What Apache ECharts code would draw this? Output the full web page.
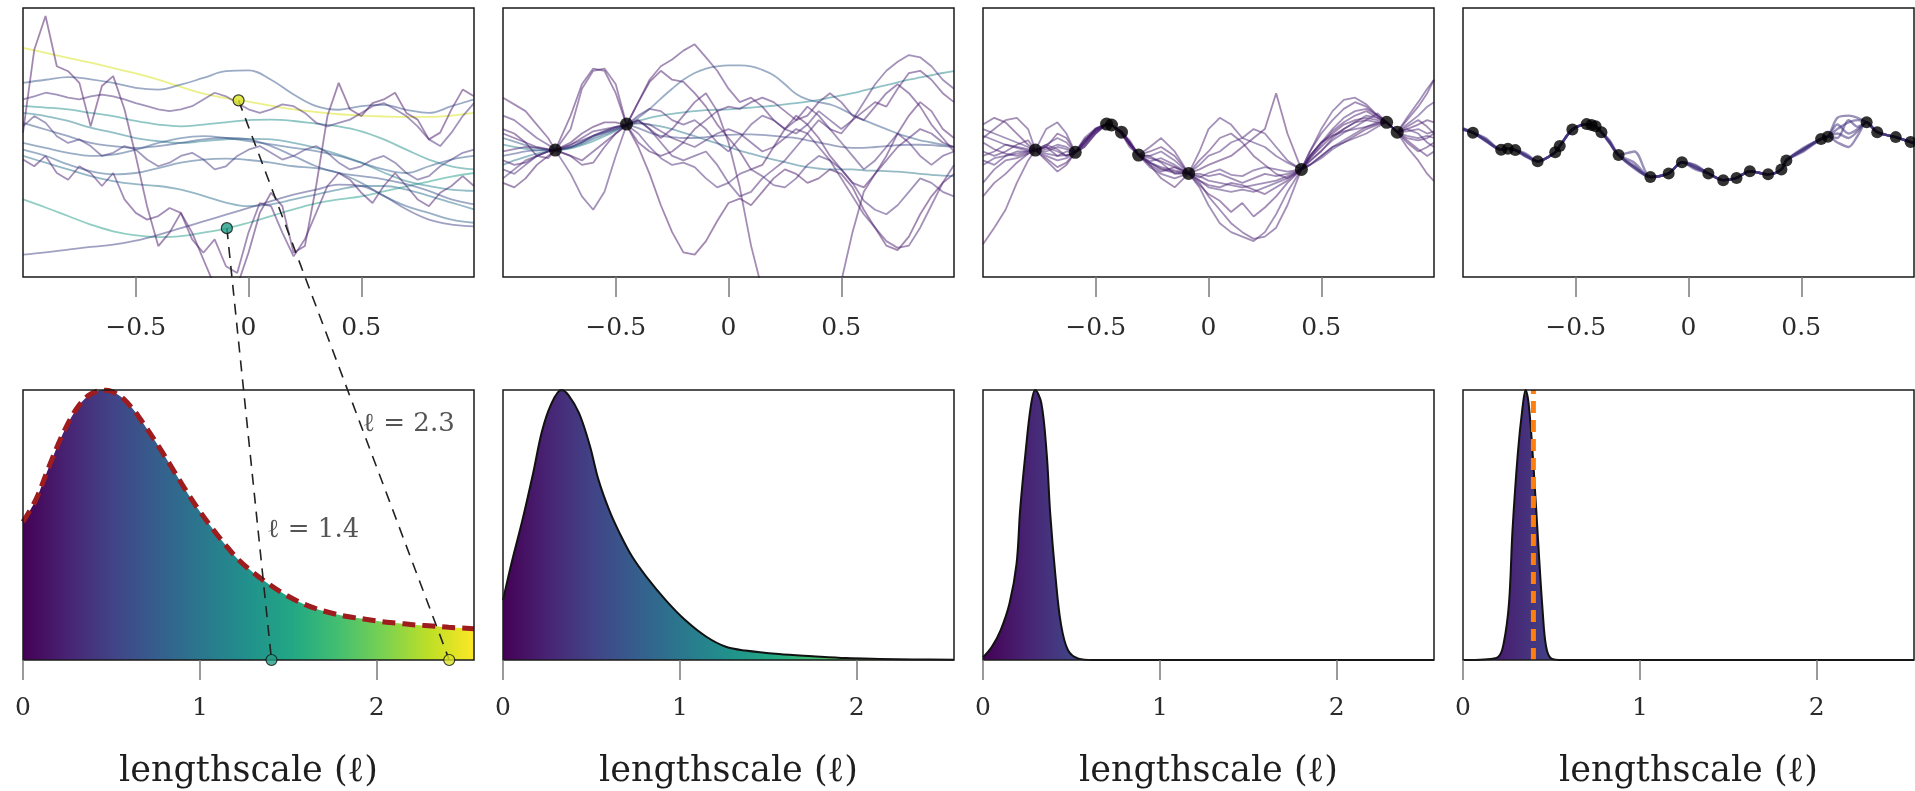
<!DOCTYPE html>
<html><head><meta charset="utf-8">
<script src="https://cdn.jsdelivr.net/npm/echarts@6/dist/echarts.min.js"></script>
<style>html,body{margin:0;padding:0;background:#fff;}#c{width:1915px;height:791px;}</style>
</head><body><div id="c"></div>
<script>
// ---------------- DATA ----------------
// observations (shared across panels; panels 2/3 use subsets)
const obsX = [-0.956,-0.831,-0.801,-0.768,-0.669,-0.591,-0.571,-0.515,-0.452,-0.430,-0.412,-0.386,-0.310,-0.169,-0.088,-0.029,0.088,0.154,0.213,0.272,0.353,0.412,0.434,0.588,0.618,0.790,0.837,0.919,0.985];
const obsY = [0.22,-0.16,-0.14,-0.17,-0.42,-0.22,-0.08,0.29,0.41,0.39,0.36,0.23,-0.28,-0.77,-0.69,-0.44,-0.69,-0.84,-0.79,-0.64,-0.71,-0.60,-0.40,0.08,0.13,0.45,0.23,0.12,0.01];
const obsIdxPanel2 = [3, 8];
const obsIdxPanel3 = [3, 5, 8, 9, 11, 12, 14, 21, 25, 26];

// x grids of the sample paths
const xCoarse = [-1,-0.9,-0.8,-0.7,-0.6,-0.5,-0.4,-0.3,-0.2,-0.1,0,0.1,0.2,0.3,0.4,0.5,0.6,0.7,0.8,0.9,1];
const xFine = [-1,-0.95,-0.9,-0.85,-0.8,-0.75,-0.7,-0.65,-0.6,-0.55,-0.5,-0.45,-0.4,-0.35,-0.3,-0.25,-0.2,-0.15,-0.1,-0.05,0,0.05,0.1,0.15,0.2,0.25,0.3,0.35,0.4,0.45,0.5,0.55,0.6,0.65,0.7,0.75,0.8,0.85,0.9,0.95,1];
const xPanel2 = [-1,-0.95,-0.9,-0.85,-0.8,-0.768,-0.7,-0.65,-0.6,-0.55,-0.5,-0.452,-0.4,-0.35,-0.3,-0.25,-0.2,-0.15,-0.1,-0.05,0,0.05,0.1,0.15,0.2,0.25,0.3,0.35,0.4,0.45,0.5,0.55,0.6,0.65,0.7,0.75,0.8,0.85,0.9,0.95,1];
const xPanel3 = [-1,-0.95,-0.9,-0.85,-0.8,-0.768,-0.72,-0.67,-0.63,-0.591,-0.55,-0.5,-0.452,-0.43,-0.386,-0.35,-0.31,-0.26,-0.21,-0.15,-0.088,-0.04,0,0.05,0.1,0.15,0.2,0.25,0.3,0.35,0.412,0.45,0.5,0.55,0.6,0.65,0.7,0.75,0.79,0.837,0.88,0.93,0.97,1];
const xPanel4 = [-1,-0.956,-0.9,-0.831,-0.801,-0.768,-0.72,-0.669,-0.591,-0.571,-0.515,-0.452,-0.430,-0.412,-0.386,-0.35,-0.310,-0.24,-0.169,-0.088,-0.029,0.03,0.088,0.154,0.213,0.272,0.353,0.412,0.434,0.51,0.588,0.618,0.66,0.71,0.75,0.790,0.837,0.919,0.985,1.0];

// panel 1 (prior samples): smooth paths on xCoarse, rough paths on xFine
const panel1SmoothLs = [2.41, 1.405, 1.25, 1.1, 0.95, 0.7, 0.75, 0.8, 0.65, 0.5];
const panel1SmoothY = [
  [2.11,2.0,1.89,1.78,1.66,1.54,1.40,1.24,1.09,0.99,0.91,0.82,0.74,0.68,0.63,0.60,0.58,0.57,0.57,0.60,0.66],
  [-1.27,-1.45,-1.64,-1.83,-1.98,-2.07,-2.11,-2.09,-2.01,-1.92,-1.79,-1.64,-1.49,-1.36,-1.27,-1.20,-1.09,-0.98,-0.87,-0.76,-0.68],
  [0.81,0.78,0.74,0.66,0.59,0.48,0.40,0.36,0.40,0.45,0.50,0.51,0.48,0.42,0.36,0.25,0.07,-0.16,-0.38,-0.53,-0.60],
  [0.66,0.59,0.48,0.33,0.22,0.10,0.03,-0.01,0.03,0.07,0.08,0.07,-0.01,-0.12,-0.27,-0.45,-0.67,-0.86,-0.97,-1.05,-1.08],
  [-0.30,-0.45,-0.60,-0.75,-0.86,-0.93,-0.97,-1.05,-1.19,-1.34,-1.42,-1.38,-1.27,-1.16,-1.05,-0.97,-0.97,-1.05,-1.19,-1.34,-1.49],
  [1.33,1.40,1.46,1.41,1.33,1.22,1.18,1.29,1.44,1.59,1.61,1.40,1.07,0.81,0.73,0.81,0.84,0.73,0.66,0.81,0.96],
  [-0.01,-0.12,-0.23,-0.30,-0.27,-0.16,-0.01,0.10,0.14,0.10,0.03,-0.04,-0.12,-0.19,-0.30,-0.45,-0.60,-0.68,-0.53,-0.38,-0.30],
  [-0.16,-0.30,-0.49,-0.64,-0.71,-0.68,-0.57,-0.45,-0.38,-0.36,-0.39,-0.45,-0.53,-0.57,-0.68,-0.90,-1.19,-1.42,-1.57,-1.72,-1.79],
  [0.44,0.29,0.14,-0.01,-0.08,-0.12,-0.08,-0.01,0.07,0.10,0.07,-0.08,-0.30,-0.53,-0.68,-0.75,-0.82,-0.93,-1.08,-1.27,-1.38],
  [-2.50,-2.45,-2.39,-2.33,-2.28,-2.19,-2.06,-1.91,-1.76,-1.61,-1.46,-1.31,-1.16,-1.05,-0.94,-0.97,-1.19,-1.49,-1.72,-1.83,-1.87]
];
const panel1RoughLs = [0.12, 0.2, 0.3, 0.38];
const panel1RoughY = [
  [0.22,2.07,2.82,1.70,1.59,1.33,0.36,1.26,1.48,0.74,-0.30,-1.42,-2.31,-2.01,-1.57,-2.01,-2.61,-3.20,-3.50,-3.20,-2.46,-1.57,-1.12,-1.42,-2.46,-2.31,-0.97,0.59,1.33,0.74,0.59,0.88,0.96,1.11,0.66,0.51,0.07,0.22,0.74,1.18,1.03],
  [-0.38,-0.53,-0.30,-0.68,-0.83,-0.53,-0.68,-0.97,-0.68,-1.27,-1.57,-1.72,-1.64,-1.46,-1.57,-2.16,-2.46,-2.16,-2.76,-2.91,-2.01,-1.35,-1.42,-2.01,-2.54,-2.16,-1.57,-0.97,-0.68,-0.83,-1.12,-1.35,-0.97,-0.68,-0.97,-1.27,-1.42,-1.12,-0.97,-0.75,-0.97],
  [0.96,1.03,1.11,1.07,1.00,0.96,1.03,1.07,1.03,0.96,0.88,0.81,0.74,0.70,0.74,0.81,0.96,1.11,1.03,0.88,0.74,0.66,0.74,0.85,0.81,0.66,0.44,0.36,0.44,0.51,0.66,0.81,0.88,0.74,0.59,0.36,0.07,-0.08,0.22,0.59,0.88],
  [0.36,0.59,0.44,0.14,-0.01,0.07,-0.08,-0.30,-0.23,-0.08,-0.16,-0.38,-0.53,-0.45,-0.30,-0.23,-0.38,-0.60,-0.53,-0.30,-0.16,-0.08,-0.23,-0.38,-0.30,-0.16,-0.08,-0.23,-0.45,-0.60,-0.53,-0.38,-0.30,-0.45,-0.68,-0.83,-0.75,-0.53,-0.38,-0.23,-0.16]
];

// panel 2 (posterior samples, 2 observations)
const panel2Ls = [1.15, 0.75, 1.0, 0.6, 0.15, 0.2, 0.12, 0.18, 0.25, 0.2, 0.3, 0.22, 0.28];
const panel2Smooth = [true, true, true, true, false, false, false, false, false, false, false, false, false];
const panel2Y = [
  [-0.05,-0.10,-0.14,-0.17,-0.18,-0.17,-0.13,-0.06,0.03,0.14,0.26,0.39,0.48,0.55,0.60,0.64,0.67,0.70,0.72,0.73,0.74,0.76,0.78,0.80,0.82,0.85,0.88,0.91,0.95,1.00,1.05,1.10,1.16,1.22,1.28,1.34,1.40,1.45,1.50,1.55,1.59],
  [0.10,0.02,-0.06,-0.12,-0.16,-0.17,-0.12,-0.03,0.08,0.18,0.28,0.39,0.55,0.75,0.98,1.20,1.40,1.55,1.65,1.70,1.72,1.72,1.70,1.62,1.50,1.30,1.08,0.96,0.90,0.85,0.75,0.62,0.50,0.40,0.30,0.20,0.12,0.05,0.00,-0.05,-0.10],
  [-0.50,-0.40,-0.32,-0.25,-0.20,-0.17,-0.10,0.00,0.12,0.22,0.32,0.39,0.42,0.40,0.36,0.30,0.22,0.14,0.06,-0.02,-0.10,-0.18,-0.25,-0.32,-0.38,-0.44,-0.50,-0.55,-0.58,-0.60,-0.60,-0.60,-0.62,-0.63,-0.64,-0.65,-0.67,-0.70,-0.72,-0.74,-0.75],
  [-0.30,-0.25,-0.20,-0.18,-0.17,-0.17,-0.10,0.02,0.15,0.26,0.34,0.39,0.32,0.22,0.15,0.12,0.10,0.10,0.12,0.15,0.17,0.18,0.18,0.17,0.15,0.12,0.10,0.05,0.00,-0.05,-0.10,-0.12,-0.12,-0.10,-0.08,-0.06,-0.05,-0.05,-0.06,-0.08,-0.10],
  [0.3,0.2,0.0,-0.3,-0.35,-0.17,0.6,1.3,1.65,1.6,1.1,0.39,0.9,1.35,1.6,1.4,1.35,1.1,0.8,0.4,0.1,-0.2,-0.6,-0.5,-0.1,0.3,0.6,0.4,0.1,-0.3,-0.6,-0.9,-1.0,-0.7,-0.3,0.2,0.6,0.9,0.7,0.3,0.1],
  [-0.4,-0.5,-0.45,-0.3,-0.2,-0.17,-0.3,-0.4,-0.2,0.0,0.2,0.39,0.9,1.4,1.7,1.85,2.05,2.19,1.9,1.6,1.2,0.9,1.0,0.8,0.5,0.3,0.5,0.8,0.6,0.3,0.2,0.5,0.7,0.9,0.8,1.2,1.55,1.6,1.4,1.1,0.9],
  [-0.9,-1.0,-0.8,-0.5,-0.3,-0.17,0.0,0.2,0.35,0.45,0.45,0.39,-0.1,-0.7,-1.4,-2.0,-2.45,-2.5,-2.2,-1.75,-1.35,-1.25,-1.4,-1.1,-0.8,-0.6,-0.7,-0.9,-0.8,-0.6,-0.7,-1.0,-1.5,-1.9,-2.3,-2.4,-2.1,-1.6,-1.2,-0.9,-0.7],
  [0.2,0.1,0.0,-0.1,-0.15,-0.17,-0.3,-0.5,-0.45,-0.1,0.2,0.39,0.5,0.3,0.1,0.3,0.6,0.9,1.1,0.7,0.0,-1.0,-2.3,-3.3,-3.5,-3.6,-3.5,-3.4,-3.2,-3.2,-3.1,-2.0,-1.1,-0.7,-0.4,-0.1,0.1,0.3,0.2,0.0,-0.1],
  [0.6,0.5,0.3,0.1,-0.05,-0.17,-0.7,-1.2,-1.5,-1.1,-0.3,0.39,0.5,0.3,0.0,-0.3,-0.4,-0.3,-0.2,-0.5,-0.9,-1.2,-1.1,-0.8,-0.6,-0.4,-0.1,0.2,0.5,0.3,0.0,-0.3,-0.6,-0.4,-0.1,0.2,0.0,-0.3,-0.5,-0.3,-0.2],
  [1.0,0.85,0.7,0.4,0.1,-0.17,0.3,1.2,1.6,1.65,1.3,0.39,0.0,-0.2,-0.3,-0.2,0.0,0.3,0.5,0.7,0.8,0.75,0.9,1.0,0.9,0.7,0.5,0.6,0.9,1.1,0.9,0.6,0.5,0.8,1.1,1.3,1.1,0.8,0.4,0.1,-0.2],
  [-0.6,-0.7,-0.5,-0.3,-0.2,-0.17,-0.1,0.0,0.15,0.25,0.35,0.39,0.2,-0.1,-0.35,-0.5,-0.45,-0.55,-0.8,-1.0,-0.9,-0.7,-0.6,-0.75,-0.95,-1.0,-0.8,-0.5,-0.3,-0.4,-0.6,-0.9,-1.3,-1.5,-1.6,-1.4,-1.1,-0.8,-0.9,-1.1,-1.2],
  [-0.2,-0.15,-0.1,-0.12,-0.16,-0.17,-0.05,0.1,0.25,0.3,0.35,0.39,0.45,0.4,0.25,0.1,0.0,-0.1,0.05,0.2,0.3,0.2,0.0,-0.2,-0.1,0.1,0.3,0.2,-0.1,-0.4,-0.8,-1.2,-1.6,-1.9,-2.2,-2.35,-2.3,-1.9,-1.4,-0.9,-0.5],
  [-0.8,-0.6,-0.4,-0.3,-0.2,-0.17,-0.05,0.05,0.15,0.22,0.3,0.39,0.6,0.75,0.7,0.5,0.4,0.5,0.3,0.0,-0.2,0.1,0.4,0.6,0.5,0.3,0.2,0.4,0.7,0.5,0.3,0.5,0.9,1.3,1.6,1.8,1.95,1.9,1.7,1.4,1.2]
];

// panel 3 (posterior samples, 10 observations)
const panel3Ls = [0.2, 0.18, 0.15, 0.22, 0.25, 0.2, 0.28, 0.24, 0.3, 0.22, 0.26, 0.2];
const panel3Y = [
  [-2.27,-1.9,-1.5,-0.9,-0.4,-0.17,-0.05,-0.15,-0.3,-0.22,0.05,0.3,0.41,0.39,0.22,-0.05,-0.28,-0.45,-0.6,-0.68,-0.69,-0.9,-1.2,-1.5,-1.8,-2.0,-2.15,-2.1,-1.9,-1.4,-0.6,-0.3,0.0,0.2,0.4,0.5,0.55,0.5,0.45,0.23,-0.1,-0.4,-0.7,-0.86],
  [-1.2,-0.9,-0.7,-0.45,-0.25,-0.17,-0.35,-0.55,-0.45,-0.22,-0.1,0.2,0.41,0.39,0.24,0.05,-0.28,-0.5,-0.8,-1.0,-0.69,-0.4,-0.2,0.1,0.2,0.0,-0.3,-0.5,-0.7,-0.8,-0.6,-0.2,0.2,0.5,0.75,0.9,0.8,0.6,0.45,0.23,0.5,0.8,1.1,1.4],
  [0.4,0.55,0.45,0.2,-0.05,-0.17,-0.1,0.2,0.1,-0.22,-0.05,0.25,0.41,0.39,0.25,0.0,-0.28,-0.2,-0.1,-0.3,-0.69,-0.6,-0.5,-0.4,-0.3,-0.1,0.1,0.3,1.1,0.2,-0.6,-0.5,-0.3,-0.1,0.0,0.15,0.3,0.4,0.45,0.23,0.3,0.4,0.5,0.45],
  [0.1,0.3,0.5,0.55,0.3,-0.17,0.3,0.45,0.2,-0.22,0.0,0.3,0.41,0.39,0.2,-0.1,-0.28,-0.1,0.1,-0.2,-0.69,-0.2,0.3,0.55,0.4,0.1,0.3,0.2,-0.1,-0.4,-0.6,-0.4,-0.2,0.1,0.3,0.45,0.6,0.55,0.45,0.23,0.0,-0.2,-0.1,0.0],
  [-0.3,-0.2,-0.05,-0.1,-0.15,-0.17,-0.3,-0.4,-0.35,-0.22,0.05,0.25,0.41,0.39,0.22,-0.02,-0.28,-0.45,-0.55,-0.62,-0.69,-1.0,-1.4,-1.8,-2.0,-2.1,-2.2,-2.0,-1.6,-1.1,-0.6,-0.3,0.0,0.15,0.25,0.3,0.35,0.42,0.45,0.23,0.25,0.3,0.2,0.25],
  [0.0,-0.15,-0.25,-0.3,-0.22,-0.17,-0.4,-0.65,-0.5,-0.22,0.1,0.32,0.41,0.39,0.2,-0.05,-0.28,-0.35,-0.42,-0.55,-0.69,-0.95,-1.15,-1.3,-1.55,-1.35,-1.65,-1.45,-1.2,-0.9,-0.6,-0.35,-0.1,0.15,0.3,0.45,0.5,0.45,0.45,0.23,0.05,-0.15,-0.3,-0.2],
  [0.3,0.2,0.1,0.0,-0.1,-0.17,-0.2,-0.1,-0.15,-0.22,0.0,0.28,0.41,0.39,0.24,0.0,-0.28,-0.3,-0.2,-0.4,-0.69,-0.5,-0.3,-0.2,0.0,0.1,0.0,-0.1,-0.3,-0.45,-0.6,-0.5,-0.3,-0.1,0.05,0.2,0.35,0.45,0.45,0.23,0.4,0.6,0.8,0.9],
  [-0.4,-0.5,-0.3,-0.2,-0.2,-0.17,-0.15,-0.05,-0.1,-0.22,0.05,0.3,0.41,0.39,0.21,-0.05,-0.28,-0.55,-0.7,-0.8,-0.69,-0.75,-0.85,-0.9,-0.95,-1.0,-0.95,-0.9,-0.85,-0.75,-0.6,-0.2,0.3,0.7,0.95,1.0,0.85,0.6,0.45,0.23,0.55,0.9,1.2,1.4],
  [-0.5,-0.35,-0.3,-0.25,-0.2,-0.17,-0.1,-0.2,-0.3,-0.22,-0.05,0.22,0.41,0.39,0.23,0.02,-0.28,-0.45,-0.58,-0.65,-0.69,-0.85,-1.0,-1.05,-1.1,-1.05,-1.1,-1.0,-0.9,-0.8,-0.6,-0.5,-0.35,-0.15,0.0,0.1,0.2,0.35,0.45,0.23,0.15,0.1,0.15,0.1],
  [-0.9,-0.6,-0.4,-0.35,-0.25,-0.17,-0.05,0.1,0.0,-0.22,-0.1,0.2,0.41,0.39,0.22,-0.03,-0.28,-0.3,-0.45,-0.7,-0.69,-0.7,-0.75,-0.7,-0.8,-0.9,-0.8,-0.7,-0.75,-0.7,-0.6,-0.3,0.0,0.3,0.55,0.7,0.75,0.6,0.45,0.23,0.1,0.05,0.1,0.2],
  [0.15,0.05,-0.05,-0.12,-0.18,-0.17,-0.25,-0.3,-0.2,-0.22,-0.02,0.27,0.41,0.39,0.22,-0.02,-0.28,-0.42,-0.35,-0.5,-0.69,-0.78,-0.68,-0.6,-0.72,-0.75,-0.62,-0.55,-0.6,-0.65,-0.6,-0.42,-0.18,0.05,0.22,0.35,0.5,0.65,0.45,0.23,0.3,0.2,0.0,-0.1],
  [-0.2,-0.3,-0.2,-0.05,0.05,-0.17,-0.1,-0.3,-0.28,-0.22,0.0,0.3,0.41,0.39,0.23,0.0,-0.28,-0.5,-0.65,-0.55,-0.69,-0.85,-0.95,-1.0,-0.9,-0.95,-1.05,-1.15,-1.0,-0.85,-0.6,-0.35,-0.05,0.25,0.45,0.6,0.7,0.55,0.45,0.23,0.35,0.5,0.35,0.2]
];

// panel 4 (posterior samples, all observations)
const panel4Ls = [0.38, 0.36, 0.4, 0.37, 0.39, 0.38];
const panel4Y = [
  [0.32,0.22,0.04,-0.16,-0.14,-0.17,-0.28,-0.42,-0.22,-0.08,0.29,0.41,0.39,0.36,0.23,0.02,-0.28,-0.20,-0.77,-0.69,-0.44,-0.52,-0.69,-0.84,-0.79,-0.64,-0.71,-0.60,-0.40,-0.12,0.08,0.13,0.55,0.60,0.55,0.45,0.23,0.12,0.01,-0.02],
  [0.28,0.22,0.07,-0.16,-0.14,-0.17,-0.32,-0.42,-0.22,-0.08,0.29,0.41,0.39,0.36,0.23,-0.02,-0.28,-0.58,-0.77,-0.69,-0.44,-0.57,-0.69,-0.84,-0.79,-0.64,-0.71,-0.60,-0.40,-0.17,0.08,0.13,0.00,-0.10,0.15,0.45,0.23,0.12,0.01,0.00],
  [0.30,0.22,0.10,-0.16,-0.14,-0.17,-0.29,-0.42,-0.22,-0.08,0.29,0.41,0.39,0.36,0.23,0.01,-0.28,-0.52,-0.77,-0.69,-0.44,-0.50,-0.69,-0.84,-0.79,-0.64,-0.71,-0.60,-0.40,-0.14,0.08,0.13,0.40,0.20,0.30,0.45,0.23,0.12,0.01,-0.01],
  [0.31,0.22,0.03,-0.16,-0.14,-0.17,-0.31,-0.42,-0.22,-0.08,0.29,0.41,0.39,0.36,0.23,0.00,-0.28,-0.45,-0.77,-0.69,-0.44,-0.56,-0.69,-0.84,-0.79,-0.64,-0.71,-0.60,-0.40,-0.20,0.08,0.13,0.10,0.50,0.35,0.45,0.23,0.12,0.01,-0.01],
  [0.29,0.22,0.06,-0.16,-0.14,-0.17,-0.25,-0.42,-0.22,-0.08,0.29,0.41,0.39,0.36,0.23,0.00,-0.28,-0.56,-0.77,-0.69,-0.44,-0.60,-0.69,-0.84,-0.79,-0.64,-0.71,-0.60,-0.40,-0.15,0.08,0.13,0.30,0.45,0.50,0.45,0.23,0.12,0.01,-0.02],
  [0.30,0.22,0.05,-0.16,-0.14,-0.17,-0.30,-0.42,-0.22,-0.08,0.29,0.41,0.39,0.36,0.23,0.05,-0.28,-0.54,-0.77,-0.69,-0.44,-0.54,-0.69,-0.84,-0.79,-0.64,-0.71,-0.60,-0.40,-0.16,0.08,0.13,0.20,0.10,0.25,0.45,0.23,0.12,0.01,0.00]
];

// lengthscale densities (bottom row)
const priorX = [0,0.072,0.147,0.222,0.298,0.373,0.458,0.542,0.618,0.693,0.768,0.844,0.919,0.994,1.070,1.145,1.220,1.296,1.371,1.465,1.559,1.653,1.748,1.842,1.936,2.030,2.124,2.218,2.313,2.407,2.55];
const priorY = [0.512,0.593,0.716,0.833,0.926,0.981,1.0,0.981,0.932,0.864,0.790,0.710,0.630,0.556,0.488,0.426,0.370,0.327,0.290,0.249,0.216,0.191,0.173,0.160,0.151,0.142,0.136,0.130,0.126,0.121,0.116];
const post1X = [0,0.05,0.11,0.17,0.22,0.27,0.33,0.37,0.43,0.49,0.54,0.60,0.66,0.73,0.81,0.92,1.03,1.15,1.26,1.37,1.56,1.75,1.94,2.13,2.32,2.55];
const post1Y = [0.222,0.364,0.519,0.691,0.846,0.944,1.0,0.981,0.914,0.796,0.667,0.556,0.469,0.383,0.309,0.222,0.148,0.086,0.049,0.035,0.022,0.014,0.007,0.004,0.002,0.001];
const post2X = [0,0.05,0.10,0.15,0.19,0.21,0.24,0.27,0.295,0.33,0.36,0.38,0.41,0.44,0.48,0.54,0.62,2.55];
const post2Y = [0.010,0.049,0.111,0.210,0.358,0.556,0.765,0.938,1.0,0.951,0.765,0.543,0.309,0.136,0.037,0.005,0,0];
const post3X = [0,0.12,0.20,0.23,0.26,0.28,0.31,0.335,0.354,0.373,0.40,0.43,0.45,0.47,0.50,0.56,2.55];
const post3Y = [0,0.002,0.012,0.062,0.210,0.481,0.765,0.926,1.0,0.938,0.704,0.383,0.185,0.049,0.005,0,0];
const trueLs = 0.398;

// probes: prior samples highlighted in panel 1 and their lengthscales
const probeLs = [1.405, 2.41];
const probeTopX = [-0.096, -0.044];
const probeTopY = [-1.91, 0.94];
const probeText = ['ℓ = 1.4', 'ℓ = 2.3'];
const probeTextAnchor = [[1.38, 0.48], [1.92, 0.875]];

const topTicks = [-0.5, 0, 0.5];
const bottomTicks = [0, 1, 2];
const axisTitle = 'lengthscale (ℓ)';

// ---------------- STYLE / LAYOUT ----------------
const LS_MAX = 2.55;
const VIRIDIS = ['#440154','#482475','#414487','#355f8d','#2a788e','#21918c','#22a884','#44bf70','#7ad151','#bddf26','#fde725'];
function hex2rgb(h){return [parseInt(h.slice(1,3),16),parseInt(h.slice(3,5),16),parseInt(h.slice(5,7),16)];}
function viridis(t){
  t = Math.max(0, Math.min(1, t));
  const n = VIRIDIS.length - 1;
  const i = Math.min(n - 1, Math.floor(t * n));
  const f = t * n - i;
  const a = hex2rgb(VIRIDIS[i]), b = hex2rgb(VIRIDIS[i + 1]);
  return 'rgb(' + a.map((v, k) => Math.round(v + (b[k] - v) * f)).join(',') + ')';
}
const gradient = {type:'linear', x:0, y:0, x2:1, y2:0,
  colorStops: VIRIDIS.map((c, i) => ({offset: i / (VIRIDIS.length - 1), color: c}))};

const FONT = 'DejaVu Serif';
const COL_LEFT = [23, 503, 983, 1463];
const PANEL_W = 451;
const grids = [], xAxes = [], yAxes = [];
const fmt = v => (v < 0 ? '\u2212' : '') + Math.abs(v);
for (let r = 0; r < 2; r++) {
  for (let c = 0; c < 4; c++) {
    grids.push({left: COL_LEFT[c], width: PANEL_W, top: r === 0 ? 8 : 390, height: r === 0 ? 269 : 270,
      show: true, borderColor: '#1a1a1a', borderWidth: 1.5, backgroundColor: 'transparent', z: 6});
    const gi = r * 4 + c;
    const common = {type: 'value', gridIndex: gi, position: 'bottom', z: 7,
      axisLine: {show: false, onZero: false}, splitLine: {show: false},
      axisTick: {show: true, inside: false, customValues: r === 0 ? topTicks : bottomTicks, length: 20,
        lineStyle: {color: '#7a7a7a', width: 1.5}},
      axisLabel: {customValues: r === 0 ? topTicks : bottomTicks, formatter: fmt,
        margin: r === 0 ? 39 : 36, fontSize: 25, fontFamily: FONT, color: '#2b2b2b'}};
    if (r === 0) {
      xAxes.push(Object.assign(common, {min: -1, max: 1}));
      yAxes.push({type: 'value', gridIndex: gi, min: -3, max: 3, show: false});
    } else {
      xAxes.push(Object.assign(common, {min: 0, max: 2.55,
        name: axisTitle, nameLocation: 'middle', nameGap: 94,
        nameTextStyle: {fontSize: 35, fontFamily: FONT, color: '#1e1e1e'}}));
      yAxes.push({type: 'value', gridIndex: gi, min: 0, max: 1, show: false});
    }
  }
}

const series = [];
function pathSeries(gi, xs, ys, ls, smooth, width, opacity) {
  series.push({type: 'line', xAxisIndex: gi, yAxisIndex: gi, symbol: 'none', silent: true,
    smooth: smooth, data: xs.map((x, i) => [x, ys[i]]),
    lineStyle: {color: viridis(ls / LS_MAX), width: width, opacity: opacity}, z: 2});
}
panel1SmoothY.forEach((ys, i) => pathSeries(0, xCoarse, ys, panel1SmoothLs[i], 0.4, 1.8, i === 0 ? 0.55 : 0.5));
panel1RoughY.forEach((ys, i) => pathSeries(0, xFine, ys, panel1RoughLs[i], false, 1.8, 0.5));
panel2Y.forEach((ys, i) => pathSeries(1, xPanel2, ys, panel2Ls[i], panel2Smooth[i] ? 0.4 : false, 1.8, 0.5));
panel3Y.forEach((ys, i) => pathSeries(2, xPanel3, ys, panel3Ls[i], false, 1.8, 0.5));
panel4Y.forEach((ys, i) => pathSeries(3, xPanel4, ys, panel4Ls[i], 0.3, 2.4, 0.55));

function obsSeries(gi, idx, size) {
  series.push({type: 'scatter', xAxisIndex: gi, yAxisIndex: gi, silent: true, symbolSize: size,
    data: idx.map(i => [obsX[i], obsY[i]]), itemStyle: {color: '#000'}, z: 10});
}
obsSeries(1, obsIdxPanel2, 13);
obsSeries(2, obsIdxPanel3, 13);
obsSeries(3, obsX.map((_, i) => i), 12);

// densities
function densSeries(gi, xs, ys, lineStyle) {
  series.push({type: 'line', xAxisIndex: gi, yAxisIndex: gi, symbol: 'none', silent: true, smooth: 0.35,
    data: xs.map((x, i) => [x, ys[i]]), areaStyle: {color: gradient, opacity: 1}, lineStyle: lineStyle, z: 3});
}
densSeries(4, priorX, priorY, {color: '#9e1b1e', width: 5, type: [13, 7]});
densSeries(5, post1X, post1Y, {color: '#111', width: 2});
densSeries(6, post2X, post2Y, {color: '#111', width: 2});
densSeries(7, post3X, post3Y, {color: '#111', width: 2});
series.push({type: 'line', xAxisIndex: 7, yAxisIndex: 7, symbol: 'none', silent: true,
  data: [[trueLs, 0], [trueLs, 1]], lineStyle: {color: '#ff7f0e', width: 5, type: [12, 7]}, z: 5});

// probe markers
series.push({type: 'scatter', xAxisIndex: 0, yAxisIndex: 0, silent: true, symbolSize: 11, z: 20,
  data: probeTopX.map((x, i) => ({value: [x, probeTopY[i]], itemStyle: {color: viridis(probeLs[i] / LS_MAX)}})),
  itemStyle: {borderColor: '#111', borderWidth: 1.2}});
series.push({type: 'scatter', xAxisIndex: 4, yAxisIndex: 4, silent: true, symbolSize: 11, z: 20,
  data: probeLs.map(l => ({value: [l, 0], itemStyle: {color: viridis(l / LS_MAX)}})),
  itemStyle: {borderColor: '#111', borderWidth: 1.2}});
series.push({type: 'scatter', xAxisIndex: 4, yAxisIndex: 4, silent: true, symbolSize: 0, z: 21,
  data: probeTextAnchor.map((p, i) => ({value: p, name: probeText[i]})),
  label: {show: true, formatter: p => p.name, position: [0, 0], align: 'left', verticalAlign: 'middle',
    fontSize: 26, fontFamily: FONT, color: '#2b2b2b'}});

const chart = echarts.init(document.getElementById('c'));
chart.setOption({animation: false, backgroundColor: '#fff', textStyle: {fontFamily: FONT},
  grid: grids, xAxis: xAxes, yAxis: yAxes, series: series});

// dashed connectors from each highlighted prior sample to its lengthscale
const connectors = probeLs.map((l, i) => {
  const a = chart.convertToPixel({gridIndex: 0}, [probeTopX[i], probeTopY[i]]);
  const b = chart.convertToPixel({gridIndex: 4}, [l, 0]);
  return {type: 'line', silent: true, z: 15,
    shape: {x1: a[0], y1: a[1], x2: b[0], y2: b[1]},
    style: {stroke: '#222', lineWidth: 1.6, lineDash: [11, 8]}};
});
chart.setOption({graphic: connectors});
</script></body></html>
